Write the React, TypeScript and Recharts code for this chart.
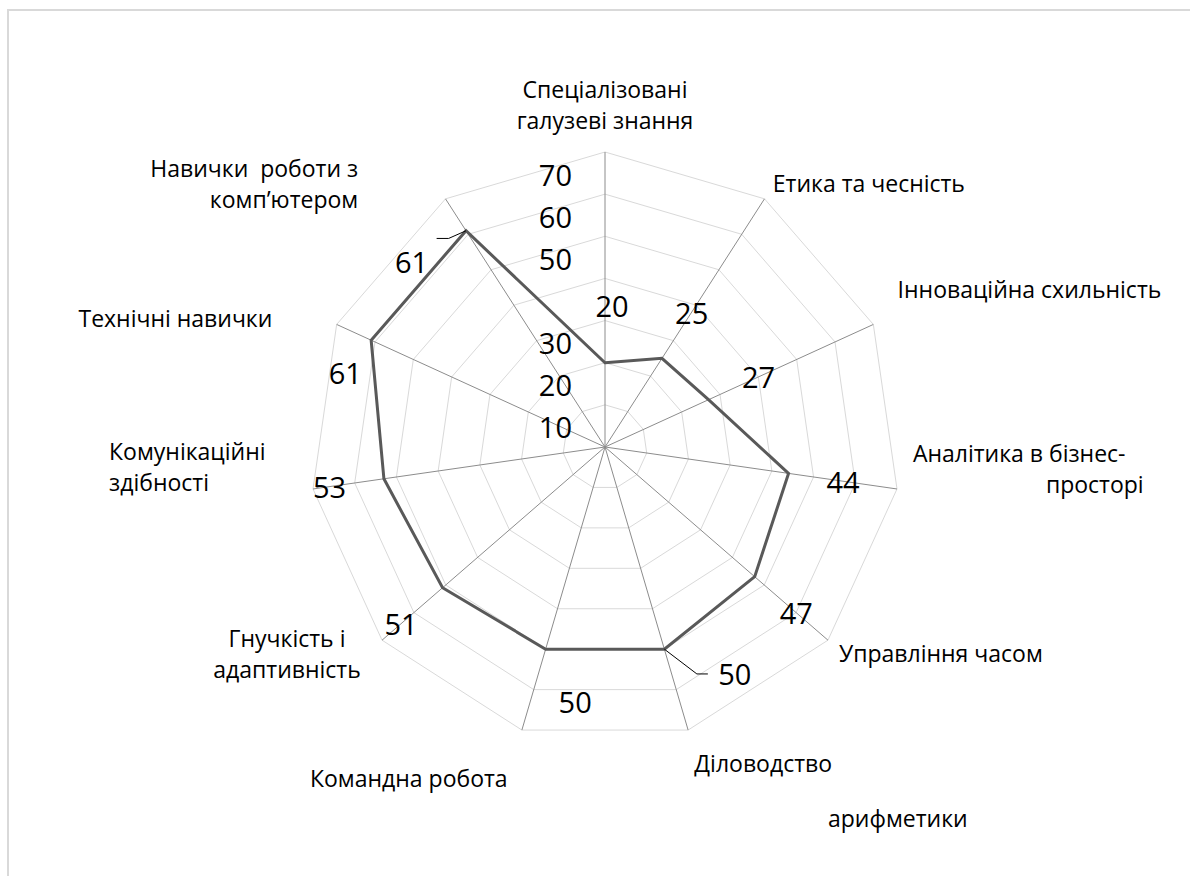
import { RadarChart, Radar, PolarGrid, PolarAngleAxis, PolarRadiusAxis } from "recharts";

// Категорії (за годинниковою стрілкою від верху)
const categories = [
  "Спеціалізовані\nгалузеві знання",
  "Етика та чесність",
  "Інноваційна схильність",
  "Аналітика в бізнес-\nпросторі",
  "Управління часом",
  "Діловодство",
  "Командна робота",
  "Гнучкість і\nадаптивність",
  "Комунікаційні\nздібності",
  "Технічні навички",
  "Навички  роботи з\nкомп’ютером",
];

const scores = [20, 25, 27, 44, 47, 50, 50, 51, 53, 61, 61];

const radiusDomain = [0, 70];
const hiddenRadiusTicks = [0, 40];

const chartData = categories.map((skill, i) => ({ skill, score: scores[i] }));

const CX = 596;
const CY = 436;
const FONT = "'Open Sans', 'Noto Sans', sans-serif";

// зсуви підписів категорій відносно кінця променя
const labelLayout: { anchor: string; dx: number; dy: number; dx2?: number }[] = [
  { anchor: "middle", dx: 0, dy: -55 },
  { anchor: "start", dx: 4, dy: -9 },
  { anchor: "start", dx: 17, dy: -32 },
  { anchor: "start", dx: 8, dy: -37, dx2: 133 },
  { anchor: "start", dx: 5, dy: 8 },
  { anchor: "start", dx: 4, dy: 25 },
  { anchor: "end", dx: -12, dy: 40 },
  { anchor: "middle", dx: -89, dy: -7 },
  { anchor: "start", dx: -196, dy: -39 },
  { anchor: "end", dx: -57, dy: -3 },
  { anchor: "end", dx: -83, dy: -24 },
];

// ручні зсуви підписів значень (як перетягнуті в Excel) + лінії-виноски
const valueNudge: { dx: number; dy: number; leader?: [number, number] }[] = [
  { dx: 7, dy: -2 },
  { dx: 0, dy: 0 },
  { dx: 0, dy: 0 },
  { dx: 0, dy: 0 },
  { dx: 0, dy: 0 },
  { dx: 55, dy: -28, leader: [-27, 0] },
  { dx: 45, dy: 0 },
  { dx: 0, dy: 0 },
  { dx: 0, dy: 0 },
  { dx: -5, dy: 42 },
  { dx: -42, dy: 50, leader: [25, -23] },
];

function CategoryTick(props: any) {
  const { x, y, index, payload } = props;
  const lay = labelLayout[index] || { anchor: "middle", dx: 0, dy: 0 };
  const lines = String(payload.value).split("\n");
  return (
    <g>
      {lines.map((line, i) => (
        <text
          key={i}
          x={x + lay.dx + (i > 0 && lay.dx2 ? lay.dx2 : 0)}
          y={y + lay.dy + i * 31}
          textAnchor={lay.anchor as any}
          dominantBaseline="central"
          fontSize={23}
          fill="#000"
          style={{ whiteSpace: "pre" }}
        >
          {line}
        </text>
      ))}
    </g>
  );
}

function RadiusTick(props: any) {
  const { x, y, payload } = props;
  if (hiddenRadiusTicks.includes(payload.value)) return <g />;
  return (
    <text x={x - 33} y={y + 22} textAnchor="end" dominantBaseline="central" fontSize={29} fill="#000">
      {payload.value}
    </text>
  );
}

// підпис значення: на тому ж промені, трохи назовні від точки
function ValueLabel(props: any) {
  const { cx: px, cy: py, index, payload } = props;
  const value =
    props.value ?? payload?.score ?? payload?.payload?.score ?? payload?.value;
  const vx = px - CX;
  const vy = py - CY;
  const dist = Math.sqrt(vx * vx + vy * vy) || 1;
  const r = Math.min(dist + 55, 280);
  const nudge = valueNudge[index] || { dx: 0, dy: 0 };
  const lx = CX + (vx / dist) * r + nudge.dx;
  const ly = CY + (vy / dist) * r + nudge.dy;
  let leader = null;
  if (nudge.leader) {
    const ex = lx + nudge.leader[0];
    const ey = ly + nudge.leader[1];
    const kx = ex + (nudge.leader[0] < 0 ? -11 : 12);
    leader = (
      <polyline points={`${px},${py} ${kx},${ey} ${ex},${ey}`} fill="none" stroke="#000" strokeWidth={1} />
    );
  }
  return (
    <g key={index}>
      {leader}
      <text x={lx} y={ly} textAnchor="middle" dominantBaseline="central" fontSize={29} fill="#000">
        {Array.isArray(value) ? value[1] : value}
      </text>
    </g>
  );
}

export default function App() {
  return (
    <div
      style={{
        position: "fixed",
        left: 7,
        top: 9,
        width: 1190,
        height: 870,
        boxSizing: "border-box",
        borderTop: "2px solid #d9d9d9",
        borderLeft: "2px solid #d9d9d9",
        background: "#fff",
        fontFamily: FONT,
      }}
    >
      <RadarChart width={1181} height={865} data={chartData} cx={CX} cy={CY} outerRadius={295}>
        <PolarGrid gridType="polygon" radialLines={false} stroke="#d9d9d9" />
        <PolarGrid gridType="polygon" polarRadius={[]} stroke="#8c8c8c" />
        <PolarAngleAxis dataKey="skill" tick={CategoryTick} tickLine={false} axisLine={false} tickSize={0} />
        <PolarRadiusAxis angle={90} domain={radiusDomain} tickCount={8} axisLine={false} tick={RadiusTick} />
        <Radar
          dataKey="score"
          stroke="#595959"
          strokeWidth={3}
          fill="none"
          fillOpacity={0}
          dot={ValueLabel}
          isAnimationActive={false}
        />
      </RadarChart>
      <div
        style={{
          position: "absolute",
          left: 819,
          top: 792,
          fontSize: 23,
          lineHeight: "30px",
          color: "#000",
        }}
      >
        арифметики
      </div>
    </div>
  );
}
